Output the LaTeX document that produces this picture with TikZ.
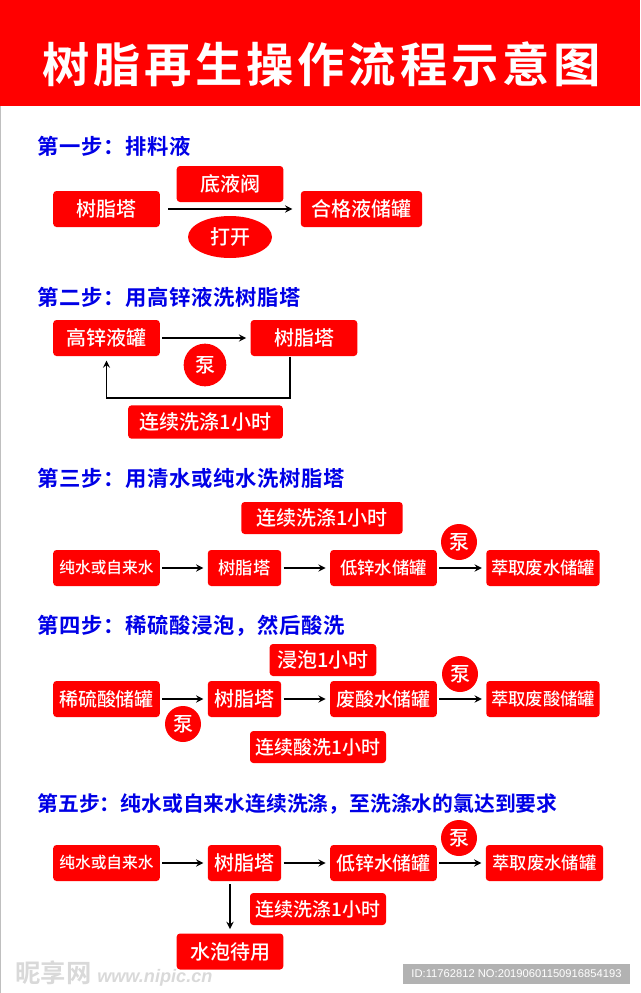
\documentclass[tikz,border=0pt]{standalone}
\usepackage{fontspec}
\setmainfont{Noto Sans CJK SC}
\newfontfamily\titlefont[LetterSpace=8]{Noto Sans CJK SC Bold}
\newfontfamily\stepfont[LetterSpace=3]{Noto Sans CJK SC Bold}
\newfontfamily\longstepfont{Noto Sans CJK SC Bold}
\newfontfamily\boxfont{Noto Sans CJK SC Medium}
\newfontfamily\stampfont{Liberation Sans}
\definecolor{flowred}{RGB}{255,0,0}
\definecolor{stepblue}{RGB}{0,0,230}
\usetikzlibrary{shapes.geometric}
\newcommand{\fullcolon}{^^^^ff1a}
\newcommand{\fullcomma}{^^^^ff0c}
\tikzset{every picture/.style={line width=0.75pt}}
\tikzset{
  boxnode/.style={fill=flowred,text=white,rounded corners=2.5pt,inner sep=0pt,font=\boxfont\fontsize{15}{18}\selectfont},
  midtext/.style={font=\boxfont\fontsize{14.2}{18}\selectfont},
  smalltext/.style={font=\boxfont\fontsize{13}{16}\selectfont},
  tinytext/.style={font=\boxfont\fontsize{11.8}{14}\selectfont},
  ovalnode/.style={ellipse,fill=flowred,text=white,inner sep=0pt,font=\boxfont\fontsize{15}{18}\selectfont},
  stepnode/.style={anchor=west,inner sep=0pt,text=stepblue,font=\stepfont\fontsize{16}{20}\selectfont},
  flowline/.style={line width=1.4pt,-stealth,shorten <=1.5pt,shorten >=3pt}
}

\begin{document}
\begin{tikzpicture}[x=0.75pt,y=0.75pt,yscale=-1,xscale=1]
\useasboundingbox (0,0) rectangle (640,993);

%Background
\draw [color=black!25,line width=0.75pt] (0.5,0) -- (0.5,993);
\fill [flowred] (0,0) rectangle (640,106);
% Title
\draw (321.5,64) node (title) [inner sep=0pt,text=white,font=\titlefont\fontsize{35.5}{42}\selectfont] {树脂再生操作流程示意图};

% Step 1
\draw (37,146.5) node (stepa) [stepnode] {第一步\fullcolon 排料液};
\draw (106.5,209) node (towera) [boxnode,minimum width=80pt,minimum height=27pt] {树脂塔};
\draw (230,184) node (valve) [boxnode,minimum width=80pt,minimum height=27pt] {底液阀};
\draw (361.5,209) node (tanka) [boxnode,minimum width=91pt,minimum height=27pt] {合格液储罐};
\draw (230,237) node (open) [ovalnode,minimum width=63pt,minimum height=31.5pt] {打开};
\draw [flowline,shorten <=6pt,shorten >=6pt] (towera) -- (tanka);

% Step 2
\draw (37,297.5) node (stepb) [stepnode] {第二步\fullcolon 用高锌液洗树脂塔};
\draw (106.5,338) node (zinc) [boxnode,minimum width=80pt,minimum height=27pt] {高锌液罐};
\draw (304,338) node (towerb) [boxnode,minimum width=80pt,minimum height=27pt] {树脂塔};
\draw (205,365) node (pumpb) [ovalnode,minimum width=32pt,minimum height=32pt] {泵};
\draw (205.5,422) node (washb) [boxnode,minimum width=116pt,minimum height=25pt] {连续洗涤1小时};
\coordinate (loopb) at (290,398);
\draw [flowline] (zinc) -- (towerb);
\draw [flowline,shorten <=0pt] (towerb.south -| loopb) -- (loopb) -- (loopb -| zinc.south) -- (zinc.south);

% Step 3
\draw (37,478.5) node (stepc) [stepnode] {第三步\fullcolon 用清水或纯水洗树脂塔};
\draw (322,518) node (washc) [boxnode,minimum width=121pt,minimum height=24pt] {连续洗涤1小时};
\draw (106.5,568) node (waterc) [boxnode,tinytext,minimum width=80pt,minimum height=27pt] {纯水或自来水};
\draw (244.5,568) node (towerc) [boxnode,smalltext,minimum width=55pt,minimum height=27pt] {树脂塔};
\draw (383.5,568) node (lowc) [boxnode,smalltext,minimum width=80pt,minimum height=27pt] {低锌水储罐};
\draw (543,568) node (wastec) [boxnode,smalltext,minimum width=85pt,minimum height=27pt] {萃取废水储罐};
\draw (459,542) node (pumpc) [ovalnode,minimum width=27pt,minimum height=27pt] {泵};
\draw [flowline] (waterc) -- (towerc);
\draw [flowline] (towerc) -- (lowc);
\draw [flowline] (lowc) -- (wastec);

% Step 4
\draw (37,625.5) node (stepd) [stepnode] {第四步\fullcolon 稀硫酸浸泡\fullcomma 然后酸洗};
\draw (323,660) node (soak) [boxnode,minimum width=80pt,minimum height=24pt] {浸泡1小时};
\draw (106.5,699) node (acid) [boxnode,midtext,minimum width=80pt,minimum height=27pt] {稀硫酸储罐};
\draw (244.5,699) node (towerd) [boxnode,minimum width=55pt,minimum height=27pt] {树脂塔};
\draw (383.5,699) node (lowd) [boxnode,midtext,minimum width=80pt,minimum height=27pt] {废酸水储罐};
\draw (543,699) node (wasted) [boxnode,smalltext,minimum width=85pt,minimum height=27pt] {萃取废酸储罐};
\draw (183,724) node (pumpd) [ovalnode,minimum width=27pt,minimum height=27pt] {泵};
\draw (460,674) node (pumpe) [ovalnode,minimum width=27pt,minimum height=27pt] {泵};
\draw (318,747) node (washd) [boxnode,midtext,minimum width=102pt,minimum height=24pt] {连续酸洗1小时};
\draw [flowline] (acid) -- (towerd);
\draw [flowline] (towerd) -- (lowd);
\draw [flowline] (lowd) -- (wasted);

% Step 5
\draw (37,803.5) node (stepe) [stepnode,font=\longstepfont\fontsize{15.6}{20}\selectfont] {第五步\fullcolon 纯水或自来水连续洗涤\fullcomma 至洗涤水的氯达到要求};
\draw (106.5,863) node (watere) [boxnode,tinytext,minimum width=80pt,minimum height=27pt] {纯水或自来水};
\draw (244.5,863) node (towere) [boxnode,minimum width=55pt,minimum height=27pt] {树脂塔};
\draw (383.5,863) node (lowe) [boxnode,midtext,minimum width=80pt,minimum height=27pt] {低锌水储罐};
\draw (544.5,863) node (wastee) [boxnode,smalltext,minimum width=88pt,minimum height=27pt] {萃取废水储罐};
\draw (459,838) node (pumpf) [ovalnode,minimum width=27pt,minimum height=27pt] {泵};
\draw (318,909) node (washe) [boxnode,midtext,minimum width=102pt,minimum height=24pt] {连续洗涤1小时};
\draw (230,951.5) node (standby) [boxnode,minimum width=80pt,minimum height=27pt] {水泡待用};
\draw [flowline] (watere) -- (towere);
\draw [flowline] (towere) -- (lowe);
\draw [flowline] (lowe) -- (wastee);
\draw [flowline,shorten <=2pt] (towere.south -| standby) -- (standby);

% Watermark
\draw (15,974) node (mark) [anchor=west,inner sep=0pt,text=black!15,font=\longstepfont\fontsize{19}{22}\selectfont] {昵享网\ \stampfont\bfseries\itshape\fontsize{13.6}{16}\selectfont www.nipic.cn};
\draw (516.5,974) node (stamp) [fill=black!30,text=white,inner sep=0pt,minimum width=170pt,minimum height=15pt,font=\stampfont\fontsize{8.4}{10}\selectfont] {ID:11762812 NO:20190601150916854193};
\end{tikzpicture}
\end{document}
